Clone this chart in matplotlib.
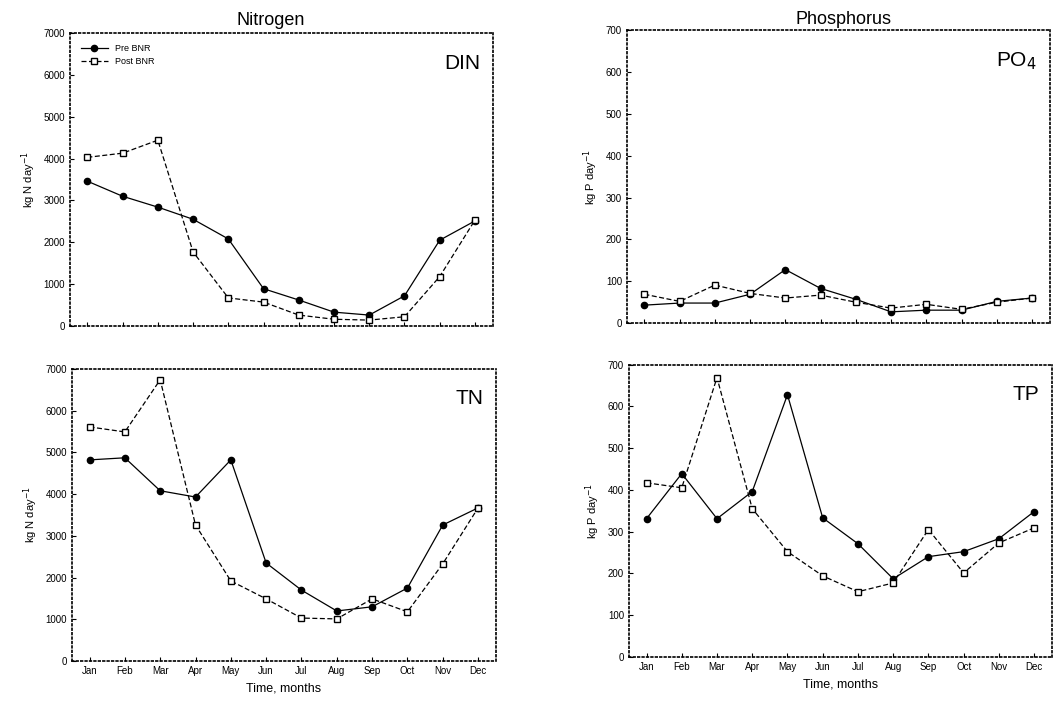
import numpy as np
import matplotlib
matplotlib.use("Agg")
import matplotlib.pyplot as plt

plt.rcParams['font.family'] = ['Liberation Sans', 'DejaVu Sans']

months = ["Jan", "Feb", "Mar", "Apr", "May", "Jun",
          "Jul", "Aug", "Sep", "Oct", "Nov", "Dec"]

# kg N / kg P per day
din_pre = [3460, 3100, 2840, 2550, 2080, 890, 620, 330, 260, 720, 2050, 2510]
din_post = [4030, 4130, 4440, 1770, 670, 570, 260, 160, 140, 220, 1180, 2530]

po4_pre = [43, 48, 48, 69, 128, 83, 57, 27, 31, 31, 52, 60]
po4_post = [69, 52, 91, 71, 60, 67, 50, 36, 45, 33, 50, 60]

tn_pre = [4820, 4870, 4080, 3930, 4820, 2350, 1700, 1200, 1300, 1750, 3260, 3670]
tn_post = [5610, 5490, 6740, 3260, 1920, 1490, 1030, 1010, 1490, 1180, 2330, 3670]

tp_pre = [331, 439, 331, 396, 628, 333, 271, 187, 240, 252, 283, 348]
tp_post = [417, 405, 669, 355, 252, 194, 156, 177, 305, 201, 273, 309]

N_TICKS = [0, 1000, 2000, 3000, 4000, 5000, 6000, 7000]
P_TICKS = [0, 100, 200, 300, 400, 500, 600, 700]

fig = plt.figure(figsize=(10.57, 7.04), dpi=100)

panels = [
    # rect, pre, post, ticks, label, ylabel, bottom row
    ([0.066, 0.537, 0.400, 0.416], din_pre, din_post, N_TICKS, "DIN", "kg N day$^{-1}$", False),
    ([0.593, 0.541, 0.400, 0.416], po4_pre, po4_post, P_TICKS, "PO$_4$", "kg P day$^{-1}$", False),
    ([0.068, 0.061, 0.401, 0.415], tn_pre, tn_post, N_TICKS, "TN", "kg N day$^{-1}$", True),
    ([0.595, 0.067, 0.400, 0.415], tp_pre, tp_post, P_TICKS, "TP", "kg P day$^{-1}$", True),
]

x = np.arange(len(months))
axes = []
for rect, pre, post, ticks, label, ylabel, bottom in panels:
    ax = fig.add_axes(rect)
    ax.plot(x, pre, color='black', linestyle='-', linewidth=0.9,
            marker='o', markersize=4.5, markerfacecolor='black', label='Pre BNR')
    ax.plot(x, post, color='black', linestyle='--', linewidth=0.9, dashes=(4, 2),
            marker='s', markersize=4.5, markerfacecolor='white', label='Post BNR')
    ax.set_xlim(-0.5, 11.5)
    ax.set_ylim(ticks[0], ticks[-1])
    ax.set_yticks(ticks)
    ax.set_xticks(x)
    if bottom:
        ax.set_xticklabels(months)
        ax.set_xlabel("Time, months", fontsize=9, labelpad=5)
    else:
        ax.set_xticklabels([])
    ax.set_ylabel(ylabel, fontsize=8)
    ax.tick_params(direction='in', length=3, labelsize=7, width=0.8)
    for s in ax.spines.values():
        s.set_linestyle(':')
        s.set_linewidth(1.2)
    ax.text(0.97, 0.93, label, transform=ax.transAxes, ha='right', va='top', fontsize=15)
    axes.append(ax)

axes[0].legend(loc='upper left', fontsize=6.5, frameon=False, handlelength=3,
               borderaxespad=0.8)

fig.text(0.256, 0.983, "Nitrogen", ha='center', va='top', fontsize=13)
fig.text(0.798, 0.985, "Phosphorus", ha='center', va='top', fontsize=13)

fig.savefig("out.png", dpi=100)
